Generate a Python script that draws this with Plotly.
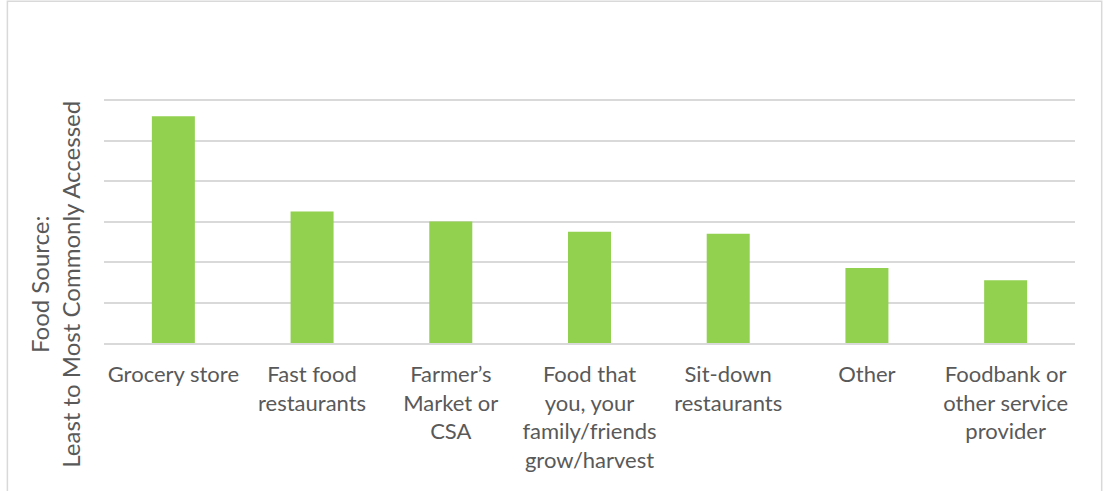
import plotly.graph_objects as go

# Food sources, ordered from most to least commonly accessed
categories = [
    "Grocery store",
    "Fast food<br>restaurants",
    "Farmer’s<br>Market or<br>CSA",
    "Food that<br>you, your<br>family/friends<br>grow/harvest",
    "Sit-down<br>restaurants",
    "Other",
    "Foodbank or<br>other service<br>provider",
]
scores = [5.6, 3.25, 3.0, 2.75, 2.7, 1.85, 1.55]

BAR_GREEN = "#92D050"
GRID_GREY = "#D9D9D9"
TEXT_GREY = "#595959"
FONT = "Lato, 'Open Sans', sans-serif"

fig = go.Figure(
    go.Bar(
        x=categories,
        y=scores,
        marker=dict(color=BAR_GREEN, line=dict(width=0)),
        width=0.31,
    )
)

fig.update_layout(
    width=1104,
    height=491,
    margin=dict(l=104, r=29, t=98, b=148),
    paper_bgcolor="white",
    plot_bgcolor="white",
    showlegend=False,
    font=dict(family=FONT, color=TEXT_GREY, size=22),
)

fig.update_xaxes(
    showgrid=False,
    showline=True,
    linecolor=GRID_GREY,
    linewidth=1.5,
    ticks="",
    tickfont=dict(size=22, color=TEXT_GREY, family=FONT),
    ticklabelstandoff=11,
    tickangle=0,
)

fig.update_yaxes(
    range=[0, 6.05],
    tickvals=[1, 2, 3, 4, 5, 6],
    showgrid=True,
    gridcolor=GRID_GREY,
    gridwidth=1.5,
    showticklabels=False,
    zeroline=False,
    ticks="",
)

# Axis title, two lines, rotated
fig.add_annotation(
    text="Food Source:<br>Least to Most Commonly Accessed",
    xref="paper",
    yref="paper",
    x=-0.05,
    y=0.24,
    xanchor="center",
    yanchor="middle",
    textangle=-90,
    showarrow=False,
    font=dict(size=24, color=TEXT_GREY, family=FONT),
    align="center",
)

# Chart-area border (bottom edge runs past the page)
fig.add_shape(
    type="rect",
    xref="paper",
    yref="paper",
    x0=-0.0995,
    x1=1.0275,
    y0=-0.65,
    y1=1.395,
    line=dict(color=GRID_GREY, width=1.5),
    fillcolor="rgba(0,0,0,0)",
    layer="below",
)

fig.write_html("out.html")
